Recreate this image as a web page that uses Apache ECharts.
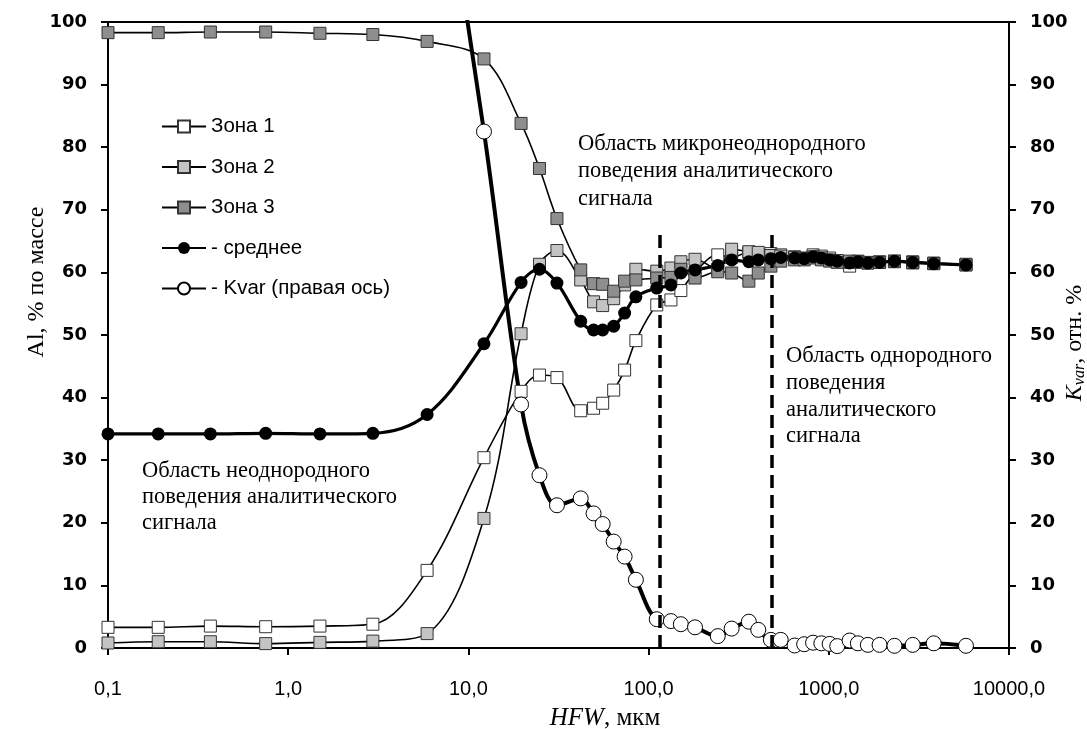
<!DOCTYPE html>
<html>
<head>
<meta charset="utf-8">
<script src="https://cdn.jsdelivr.net/npm/echarts@6/dist/echarts.min.js"></script>
<style>
  html, body { margin: 0; padding: 0; background: #fff; }
  #chart { width: 1087px; height: 729px; }
</style>
</head>
<body>
<div id="chart"></div>
<script>
// HFW values (µm), shared by every series
const hfw = [0.1, 0.19, 0.37, 0.75, 1.5, 2.95, 5.9, 12.2, 19.6, 24.8, 31, 42, 49.5, 55.6, 64, 73.6, 85,
  111, 133, 151, 181, 242, 289, 360, 406, 477, 541, 646, 730, 818, 909, 1011, 1114, 1305, 1450, 1647,
  1913, 2314, 2922, 3822, 5770];

// Al content, % by mass
const zone1 = [3.3, 3.3, 3.5, 3.4, 3.5, 3.8, 12.4, 30.4, 41.0, 43.6, 43.2, 37.9, 38.3, 39.1, 41.2, 44.4, 49.1,
  54.8, 55.6, 57.1, 60.0, 62.8, 62.4, 63.2, 62.9, 63.0, 62.8, 62.5, 62.3, 62.8, 62.6, 62.3, 61.8, 61.0, 61.6, 61.5,
  61.6, 61.7, 61.5, 61.4, 61.2];
const zone2 = [0.8, 1.0, 1.0, 0.7, 0.9, 1.1, 2.3, 20.7, 50.2, 61.3, 63.5, 58.8, 55.3, 54.7, 55.8, 58.0, 60.5,
  60.2, 60.7, 61.7, 62.1, 60.5, 63.7, 63.3, 63.2, 62.7, 62.6, 62.4, 62.2, 62.5, 62.3, 62.0, 61.9, 61.6, 61.8, 61.6,
  61.7, 61.8, 61.7, 61.5, 61.3];
const zone3 = [98.3, 98.3, 98.4, 98.4, 98.2, 98.0, 96.9, 94.1, 83.8, 76.6, 68.6, 60.4, 58.2, 58.1, 57.0, 58.6, 58.8,
  59.1, 59.2, 60.5, 59.1, 60.1, 59.9, 58.6, 59.9, 61.0, 61.8, 62.0, 62.0, 62.3, 62.0, 61.8, 61.6, 61.8, 61.7, 61.5,
  61.6, 61.8, 61.6, 61.4, 61.2];
const average = [34.2, 34.2, 34.2, 34.3, 34.2, 34.3, 37.3, 48.6, 58.4, 60.5, 58.3, 52.2, 50.8, 50.8, 51.4, 53.5, 56.1,
  57.5, 58.0, 59.9, 60.4, 61.1, 62.0, 61.7, 62.0, 62.2, 62.4, 62.3, 62.2, 62.5, 62.3, 62.0, 61.8, 61.5, 61.7, 61.5,
  61.6, 61.8, 61.6, 61.4, 61.2];
// Coefficient of variation, rel. % (right axis)
const kvar = [null, null, null, null, null, null, 142, 82.5, 38.9, 27.6, 22.8, 23.9, 21.5, 19.8, 17.0, 14.6, 10.9,
  4.6, 4.3, 3.8, 3.3, 1.9, 3.1, 4.2, 2.9, 1.3, 1.3, 0.4, 0.6, 0.85, 0.75, 0.65, 0.3, 1.2, 0.75, 0.5,
  0.5, 0.35, 0.5, 0.75, 0.35];

// Boundaries between behaviour regions (HFW, µm) and the height of the dashed markers
const boundaries = [115, 480];
const boundaryTop = 66.6;

const xTickLabels = ['0,1', '1,0', '10,0', '100,0', '1000,0', '10000,0'];
const seriesNames = ['Зона 1', 'Зона 2', 'Зона 3', '- среднее', '- Kvar (правая ось)'];

const pairs = ys => hfw.map((x, i) => [x, ys[i]]);

const SANS = '"Liberation Sans", Arial, sans-serif';
const SERIF = '"Liberation Serif", "Times New Roman", serif';
const TICK_FONT = '"DejaVu Sans", sans-serif';

function zoneSeries(name, ys, fill) {
  return {
    name, type: 'line', data: pairs(ys), smooth: 0.35,
    symbol: 'rect', symbolSize: 12,
    lineStyle: { color: '#000', width: 1.6 },
    itemStyle: { color: fill, borderColor: '#333', borderWidth: 1 },
    emphasis: { disabled: true }
  };
}

function valueAxis(position) {
  return {
    type: 'value', min: 0, max: 100, interval: 10, position,
    axisLine: { show: true, lineStyle: { color: '#000', width: 2 } },
    axisTick: { show: true, length: 7, lineStyle: { color: '#000', width: 2 } },
    splitLine: { show: false },
    axisLabel: { margin: 21, fontFamily: TICK_FONT, fontWeight: 'bold', fontSize: 18, color: '#000' }
  };
}

const chart = echarts.init(document.getElementById('chart'), null, { renderer: 'canvas' });

chart.setOption({
  animation: false,
  backgroundColor: '#fff',
  grid: { left: 108, right: 78, top: 22, bottom: 81, show: true, borderColor: '#000', borderWidth: 2 },
  legend: {
    orient: 'vertical', left: 161, top: 116, padding: 0,
    itemWidth: 44, itemHeight: 15, itemGap: 19.5,
    selectedMode: false,
    textStyle: { fontFamily: SANS, fontSize: 20.5, color: '#000' },
    data: seriesNames
  },
  xAxis: {
    type: 'log', logBase: 10, min: 0.1, max: 10000, splitNumber: 5,
    axisLine: { lineStyle: { color: '#000', width: 2 } },
    axisTick: { show: true, length: 7, lineStyle: { color: '#000', width: 2 } },
    minorTick: { show: false },
    splitLine: { show: false },
    axisLabel: {
      margin: 31, fontFamily: SANS, fontSize: 20, color: '#000',
      formatter: v => xTickLabels[Math.round(Math.log10(v)) + 1] || ''
    }
  },
  yAxis: [valueAxis('left'), valueAxis('right')],
  series: [
    zoneSeries(seriesNames[0], zone1, '#ffffff'),
    zoneSeries(seriesNames[1], zone2, '#c4c4c4'),
    Object.assign(zoneSeries(seriesNames[2], zone3, '#8e8e8e'), {
      markLine: {
        silent: true, symbol: 'none', label: { show: false },
        lineStyle: { color: '#000', width: 3.5, type: [13, 7] },
        data: boundaries.map(b => [{ coord: [b, 0] }, { coord: [b, boundaryTop] }])
      }
    }),
    {
      name: seriesNames[3], type: 'line', data: pairs(average), smooth: 0.35,
      symbol: 'circle', symbolSize: 13,
      lineStyle: { color: '#000', width: 3.2 },
      itemStyle: { color: '#000' },
      emphasis: { disabled: true }
    },
    {
      name: seriesNames[4], type: 'line', yAxisIndex: 1, data: pairs(kvar), smooth: 0.35,
      symbol: 'circle', symbolSize: 15, connectNulls: false,
      lineStyle: { color: '#000', width: 4 },
      itemStyle: { color: '#fff', borderColor: '#000', borderWidth: 1 },
      emphasis: { disabled: true }
    }
  ],
  graphic: [
    {
      type: 'text', x: 578, y: 130,
      style: { text: 'Область микронеоднородного\nповедения аналитического\nсигнала',
        font: '22.5px ' + SERIF, fill: '#000', lineHeight: 27.5 }
    },
    {
      type: 'text', x: 786, y: 343,
      style: { text: 'Область однородного\nповедения\nаналитического\nсигнала',
        font: '22.5px ' + SERIF, fill: '#000', lineHeight: 26.7 }
    },
    {
      type: 'text', x: 142, y: 458,
      style: { text: 'Область неоднородного\nповедения аналитического\nсигнала',
        font: '22.5px ' + SERIF, fill: '#000', lineHeight: 26 }
    },
    {
      type: 'text', x: 37, y: 282, rotation: Math.PI / 2,
      style: { text: 'Al, % по массе', font: '24px ' + SERIF, fill: '#000',
        textAlign: 'center', textVerticalAlign: 'middle' }
    },
    {
      type: 'text', x: 1075, y: 343, rotation: Math.PI / 2,
      style: {
        text: '{k|K}{s|var}{n|, отн. %}', fill: '#000',
        textAlign: 'center', textVerticalAlign: 'middle',
        rich: {
          k: { fontFamily: SERIF, fontStyle: 'italic', fontSize: 24 },
          s: { fontFamily: SERIF, fontStyle: 'italic', fontSize: 16, padding: [9, 0, 0, 0] },
          n: { fontFamily: SERIF, fontSize: 24 }
        }
      }
    },
    {
      type: 'text', x: 605, y: 718,
      style: {
        text: '{i|HFW}{n|, мкм}', fill: '#000',
        textAlign: 'center', textVerticalAlign: 'middle',
        rich: {
          i: { fontFamily: SERIF, fontStyle: 'italic', fontSize: 25 },
          n: { fontFamily: SERIF, fontSize: 25 }
        }
      }
    }
  ]
});
</script>
</body>
</html>
